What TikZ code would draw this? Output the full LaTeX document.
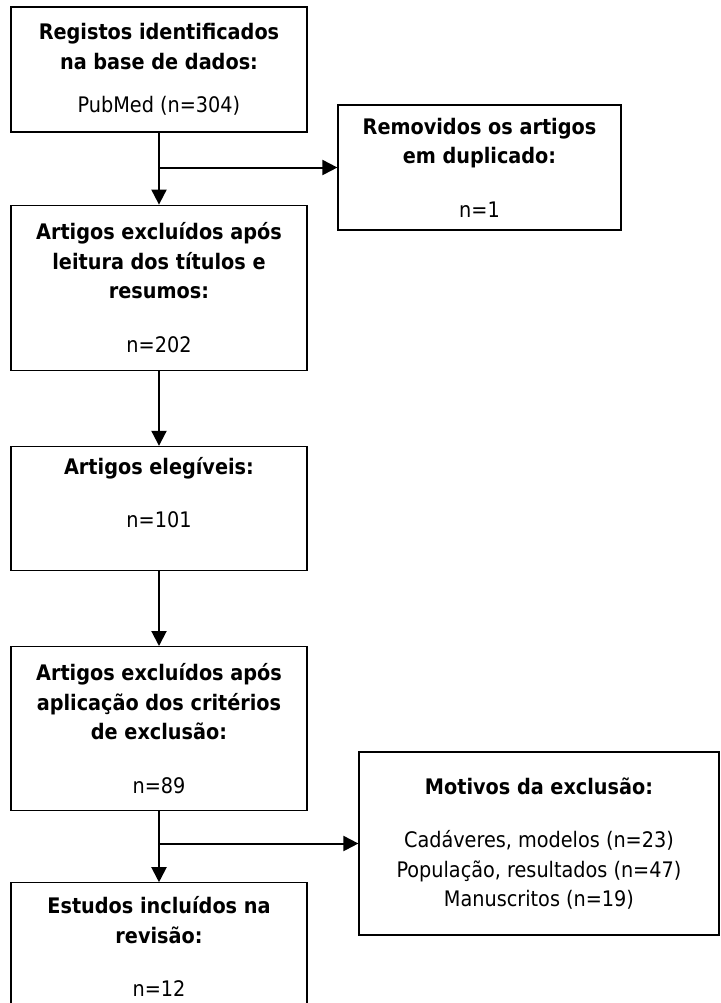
\documentclass[tikz,border=0pt]{standalone}
\usepackage{fontspec}
\setmainfont{DejaVu Sans Condensed}
\usetikzlibrary{arrows.meta,positioning}

\begin{document}
\begin{tikzpicture}[
  x=0.5pt, y=0.5pt,
  node distance=37.5pt,
  box/.style={rectangle, draw, line width=0.6pt, minimum width=148pt, align=center, inner sep=2pt, font=\fontsize{10.7}{14.75}\selectfont},
  sidebox/.style={box, minimum width=141.5pt, minimum height=62.5pt},
  arrow/.style={-{Triangle[length=7.5pt,width=7.5pt]}, line width=1pt}
]
  \useasboundingbox (0,0) rectangle (720,-1003);

  \node[box, minimum height=62.5pt] (reg) at (159,-69.5) {\textbf{Registos identificados}\\ \textbf{na base de dados:}\\[7pt] PubMed (n=304)};
  \node[box, minimum height=82.5pt, below=36pt of reg] (tit) {\textbf{Artigos excluídos após}\\ \textbf{leitura dos títulos e}\\ \textbf{resumos:}\\[12pt] n=202};
  \node[box, minimum height=62pt, below=of tit] (eleg) {\textbf{Artigos elegíveis:}\\[12pt] n=101\\[1pt]\mbox{}};
  \node[box, minimum height=82pt, below=of eleg] (crit) {\textbf{Artigos excluídos após}\\ \textbf{aplicação dos critérios}\\ \textbf{de exclusão:}\\[12pt] n=89};
  \node[box, minimum height=64pt, below=35.5pt of crit] (inc) {\textbf{Estudos incluídos na}\\ \textbf{revisão:}\\[12pt] n=12};

  \node[sidebox] (dup) at (479.5,-167.5) {\textbf{Removidos os artigos}\\ \textbf{em duplicado:}\\[12pt] n=1};
  \node[box, minimum width=180pt, minimum height=91.5pt] (mot) at (539,-843.5) {\textbf{Motivos da exclusão:}\\[12pt] Cadáveres, modelos (n=23)\\ População, resultados (n=47)\\ Manuscritos (n=19)};

  \draw[arrow] (reg) -- (tit);
  \draw[arrow] (reg.south |- dup.west) -- (dup);
  \draw[arrow] (tit) -- (eleg);
  \draw[arrow] (eleg) -- (crit);
  \draw[arrow] (crit) -- (inc);
  \draw[arrow] (crit.south |- mot.west) -- (mot);
\end{tikzpicture}
\end{document}
